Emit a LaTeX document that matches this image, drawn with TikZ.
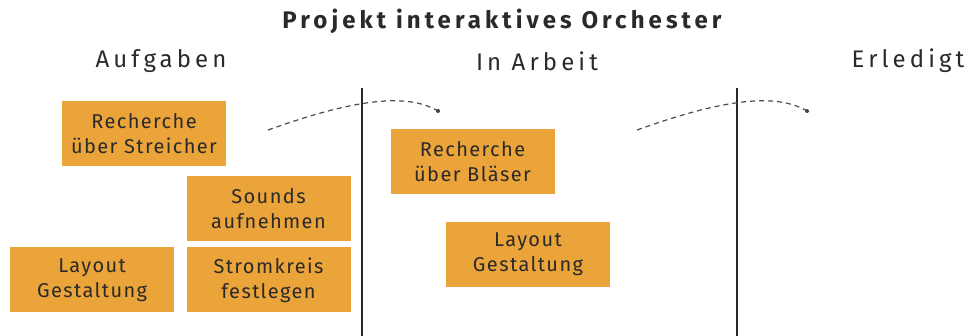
\documentclass[tikz,border=0pt]{standalone}
\usepackage{fontspec}
\setmainfont{Fira Sans}
\newfontfamily\boardfont[LetterSpace=17]{Fira Sans}
\newfontfamily\cardfont[LetterSpace=7]{Fira Sans}
\usetikzlibrary{positioning}
\definecolor{taskorange}{HTML}{EBA43A}
\definecolor{textgray}{HTML}{2A2A2A}
\tikzset{
  task/.style={rectangle, fill=taskorange, text=textgray, minimum width=164pt, minimum height=65pt, inner sep=0pt, align=center, font=\cardfont\fontsize{20}{25}\selectfont},
  column/.style={text=textgray, font=\boardfont\fontsize{24}{28}\selectfont},
  divider/.style={line width=1.8pt, black!85},
  move/.style={line width=1.2pt, black!70, dash pattern=on 5pt off 4pt},
  tip/.style={circle, fill=black!75, inner sep=0pt, minimum size=4pt}
}

\begin{document}
\begin{tikzpicture}[x=1pt,y=-1pt]
  \useasboundingbox (0,0) rectangle (969,336);
  \node[text=textgray, font=\boardfont\bfseries\fontsize{24}{28}\selectfont] (title) at (502,21) {Projekt interaktives Orchester};
  \node[column] (todo) at (161,61) {Aufgaben};
  \node[column] (doing) at (537,61) {In Arbeit};
  \node[column] (done) at (908,61) {Erledigt};

  \coordinate (D1top) at (362,88);
  \coordinate (D1bot) at (362,336);
  \coordinate (D2top) at (737,88);
  \coordinate (D2bot) at (737,336);
  \draw[divider] (D1top) -- (D1bot);
  \draw[divider] (D2top) -- (D2bot);

  \node[task] (T1) at (144,133.5) {Recherche\\über Streicher};
  \node[task] (T2) at (268.5,208.5) {Sounds\\aufnehmen};
  \node[task] (T3) [below=6pt of T2] {Stromkreis\\festlegen};
  \node[task] (T4) [left=12pt of T3] {Layout\\Gestaltung};
  \node[task] (T5) at (472.5,162) {Recherche\\über Bläser};
  \node[task] (T6) at (528,254.5) {Layout\\Gestaltung};

  \coordinate (M1a) at (268,130);
  \node[tip] (M1b) at (438,111) {};
  \coordinate (M2a) at (637,130);
  \node[tip] (M2b) at (807,111) {};
  \draw[move] (M1a) .. controls (330,108) and (400,88) .. (M1b.center);
  \draw[move] (M2a) .. controls (699,108) and (769,88) .. (M2b.center);
\end{tikzpicture}
\end{document}
